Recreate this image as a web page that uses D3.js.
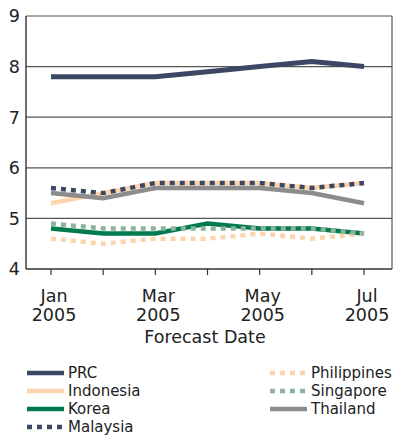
<!DOCTYPE html>
<html>
<head>
<meta charset="utf-8">
<script src="https://cdn.jsdelivr.net/npm/d3@7/dist/d3.min.js"></script>
<style>
  body { margin: 0; background: #fff; }
  text { font-family: "DejaVu Sans", Verdana, sans-serif; fill: #222; }
</style>
</head>
<body>
<div id="chart"></div>
<script>
(function(d3) {
    'use strict'

    var months = ['Jan 2005', 'Feb 2005', 'Mar 2005', 'Apr 2005', 'May 2005', 'Jun 2005', 'Jul 2005'];
    var tickLabels = [['Jan', '2005'], null, ['Mar', '2005'], null, ['May', '2005'], null, ['Jul', '2005']];
    var yTicks = [4, 5, 6, 7, 8, 9];

    var prc         = [7.8, 7.8, 7.8, 7.9, 8.0, 8.1, 8.0];
    var indonesia   = [5.3, 5.5, 5.7, 5.7, 5.7, 5.6, 5.7];
    var korea       = [4.8, 4.7, 4.7, 4.9, 4.8, 4.8, 4.7];
    var malaysia    = [5.6, 5.5, 5.7, 5.7, 5.7, 5.6, 5.7];
    var philippines = [4.6, 4.5, 4.6, 4.6, 4.7, 4.6, 4.7];
    var singapore   = [4.9, 4.8, 4.8, 4.8, 4.8, 4.8, 4.7];
    var thailand    = [5.5, 5.4, 5.6, 5.6, 5.6, 5.5, 5.3];

    // legend order, drawing order handled below (dotted on top)
    var series = [
        { name: 'PRC', values: prc, color: '#3b4763', dotted: false, col: 0, row: 0 },
        { name: 'Indonesia', values: indonesia, color: '#fcd5ac', dotted: false, col: 0, row: 1 },
        { name: 'Korea', values: korea, color: '#007a4e', dotted: false, col: 0, row: 2 },
        { name: 'Malaysia', values: malaysia, color: '#3b4763', dotted: true, col: 0, row: 3 },
        { name: 'Philippines', values: philippines, color: '#fcd5ac', dotted: true, col: 1, row: 0 },
        { name: 'Singapore', values: singapore, color: '#8cb39b', dotted: true, col: 1, row: 1 },
        { name: 'Thailand', values: thailand, color: '#8c8c8c', dotted: false, col: 1, row: 2 }
    ];

    var width = 396;
    var height = 437;
    var left = 26, right = 392, top = 16, bottom = 269;

    var svg = d3.select('#chart')
        .append('svg')
        .attr('width', width)
        .attr('height', height);

    var x = d3.scalePoint()
        .domain(months)
        .range([51, 364]);

    var y = d3.scaleLinear()
        .domain([4, 9])
        .range([bottom, top]);

    // grid lines + frame
    svg.append('g')
        .selectAll('line')
        .data(yTicks.filter(function(d) { return d > 4; }))
        .enter()
        .append('line')
        .attr('x1', left)
        .attr('x2', right)
        .attr('y1', function(d) { return y(d); })
        .attr('y2', function(d) { return y(d); })
        .attr('stroke', '#555')
        .attr('stroke-width', 1.2);

    svg.append('line')
        .attr('x1', right).attr('x2', right)
        .attr('y1', top).attr('y2', bottom)
        .attr('stroke', '#555').attr('stroke-width', 1.2);

    svg.append('line')
        .attr('x1', left).attr('x2', right)
        .attr('y1', bottom).attr('y2', bottom)
        .attr('stroke', '#333').attr('stroke-width', 1.4);

    svg.append('line')
        .attr('x1', left).attr('x2', left)
        .attr('y1', top).attr('y2', bottom)
        .attr('stroke', '#333').attr('stroke-width', 1.4);

    // y labels
    svg.append('g')
        .selectAll('text')
        .data(yTicks)
        .enter()
        .append('text')
        .attr('x', 20)
        .attr('y', function(d) { return y(d); })
        .attr('dy', '0.36em')
        .attr('text-anchor', 'end')
        .style('font-size', '17.5px')
        .text(function(d) { return d; });

    // x ticks
    svg.append('g')
        .selectAll('line')
        .data(months)
        .enter()
        .append('line')
        .attr('x1', function(d) { return x(d); })
        .attr('x2', function(d) { return x(d); })
        .attr('y1', bottom)
        .attr('y2', bottom + 6)
        .attr('stroke', '#333')
        .attr('stroke-width', 1.2);

    var xl = svg.append('g')
        .selectAll('text')
        .data(months.filter(function(d, i) { return tickLabels[i]; }))
        .enter()
        .append('text')
        .attr('text-anchor', 'middle')
        .style('font-size', '17.5px')
        .attr('transform', function(d) { return 'translate(' + (x(d) + 3) + ',0)'; });

    xl.append('tspan')
        .attr('x', 0).attr('y', 302)
        .text(function(d) { return tickLabels[months.indexOf(d)][0]; });
    xl.append('tspan')
        .attr('x', 0).attr('y', 321)
        .text(function(d) { return tickLabels[months.indexOf(d)][1]; });

    svg.append('text')
        .attr('x', 205)
        .attr('y', 343)
        .attr('text-anchor', 'middle')
        .style('font-size', '17.5px')
        .text('Forecast Date');

    var line = d3.line()
        .x(function(d, i) { return x(months[i]); })
        .y(function(d) { return y(d); });

    var drawOrder = series.filter(function(s) { return !s.dotted; })
        .concat(series.filter(function(s) { return s.dotted; }));

    svg.append('g')
        .selectAll('path')
        .data(drawOrder)
        .enter()
        .append('path')
        .attr('d', function(s) { return line(s.values); })
        .attr('fill', 'none')
        .attr('stroke', function(s) { return s.color; })
        .attr('stroke-width', function(s) { return s.name === 'PRC' ? 5 : 4.5; })
        .attr('stroke-dasharray', function(s) { return s.dotted ? '5,5' : null; });

    // legend
    var legend = svg.append('g')
        .selectAll('g')
        .data(series)
        .enter()
        .append('g')
        .attr('transform', function(s) {
            return 'translate(' + (s.col ? 270 : 27) + ',' + (373 + s.row * 18) + ')';
        });

    legend.append('line')
        .attr('x1', 0).attr('x2', 37)
        .attr('y1', 0).attr('y2', 0)
        .attr('stroke', function(s) { return s.color; })
        .attr('stroke-width', 4.5)
        .attr('stroke-dasharray', function(s) { return s.dotted ? '5,5' : null; });

    legend.append('text')
        .attr('x', 41)
        .attr('y', 0)
        .attr('dy', '0.35em')
        .style('font-size', '15px')
        .text(function(s) { return s.name; });

})(window.d3);
</script>
</body>
</html>
